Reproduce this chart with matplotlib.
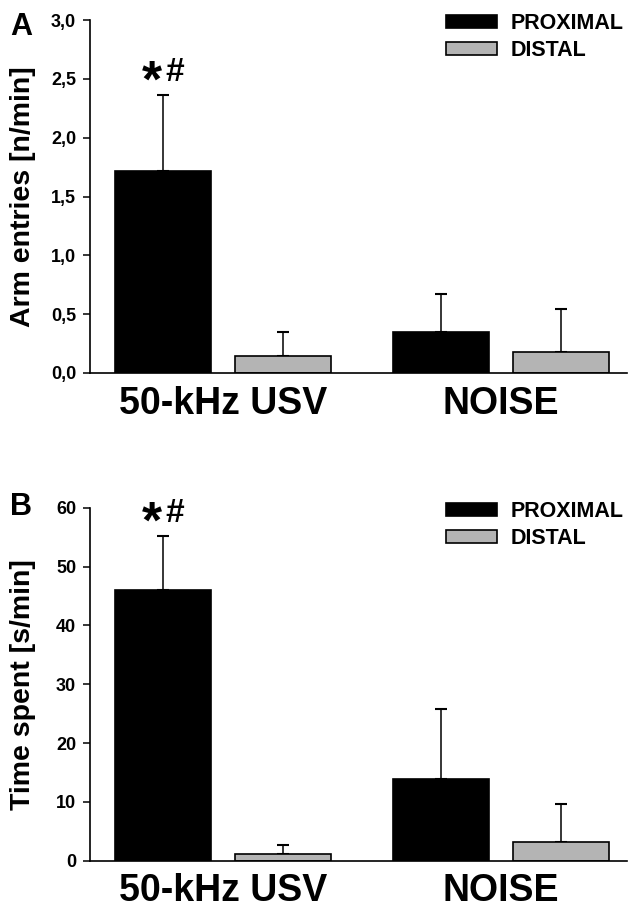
import matplotlib
matplotlib.use('Agg')
import matplotlib.pyplot as plt
import numpy as np

plt.rcParams['font.family'] = ['Liberation Sans', 'DejaVu Sans']
plt.rcParams['font.weight'] = 'bold'

# groups and series
groups = ['50-kHz USV', 'NOISE']
series = ['PROXIMAL', 'DISTAL']
colors = ['#000000', '#b4b4b4']

# panel A: arm entries [n/min]
entries_mean = {'PROXIMAL': [1.72, 0.35], 'DISTAL': [0.145, 0.18]}
entries_err = {'PROXIMAL': [0.64, 0.32], 'DISTAL': [0.205, 0.365]}
entries_ticks = [0, 0.5, 1.0, 1.5, 2.0, 2.5, 3.0]
entries_ticklabels = ['0,0', '0,5', '1,0', '1,5', '2,0', '2,5', '3,0']

# panel B: time spent [s/min]
time_mean = {'PROXIMAL': [46.0, 13.9], 'DISTAL': [1.15, 3.1]}
time_err = {'PROXIMAL': [9.2, 11.8], 'DISTAL': [1.5, 6.6]}
time_ticks = [0, 10, 20, 30, 40, 50, 60]
time_ticklabels = ['0', '10', '20', '30', '40', '50', '60']

W, H = 629, 911
fig = plt.figure(figsize=(W / 100, H / 100), dpi=100)

bar_w = 0.346
offs = [-0.216, 0.216]


def draw_panel(rect, means, errs, ticks, ticklabels, ylabel, letter, letter_y,
               legend_anchor):
    ax = fig.add_axes(rect)
    x = np.arange(len(groups))
    for i, s in enumerate(series):
        ax.bar(x + offs[i], means[s], width=bar_w, color=colors[i],
               edgecolor='black', linewidth=1.2, label=s, zorder=2)
        ax.errorbar(x + offs[i], means[s],
                    yerr=[np.zeros(len(groups)), errs[s]],
                    fmt='none', ecolor='black', elinewidth=1.1,
                    capsize=4.5, capthick=1.5, zorder=1)
    ax.set_xlim(-0.479, 1.455)
    ax.set_ylim(ticks[0], ticks[-1])
    ax.set_yticks(ticks)
    ax.set_yticklabels(ticklabels, fontsize=13, fontweight='bold')
    ax.set_xticks(x)
    ax.set_xticklabels(groups, fontsize=27, fontweight='bold')
    ax.tick_params(axis='x', length=0, pad=9)
    ax.tick_params(axis='y', length=5, width=1.1, pad=5)
    for sp in ['top', 'right']:
        ax.spines[sp].set_visible(False)
    for sp in ['left', 'bottom']:
        ax.spines[sp].set_linewidth(1.2)
    ax.set_ylabel(ylabel, fontsize=20.5, fontweight='bold')
    ax.yaxis.set_label_coords(-0.10, 0.5)

    # significance marks over the 50-kHz proximal bar
    top = means['PROXIMAL'][0] + errs['PROXIMAL'][0]
    ax.annotate('*', (offs[0], top), xytext=(-8, -9),
                textcoords='offset points', ha='center', va='bottom',
                fontsize=37, fontweight='bold')
    ax.annotate('#', (offs[0], top), xytext=(8.5, 5),
                textcoords='offset points', ha='center', va='bottom',
                fontsize=24, fontweight='bold')

    leg = ax.legend(loc='upper left', bbox_to_anchor=legend_anchor,
                    bbox_transform=fig.transFigure, frameon=False,
                    fontsize=15.5, handlelength=2.37, handleheight=0.56,
                    labelspacing=0.3, handletextpad=0.65, borderpad=0,
                    borderaxespad=0)
    for t in leg.get_texts():
        t.set_fontweight('bold')

    fig.text(10 / W, letter_y, letter, fontsize=22, fontweight='bold',
             va='baseline', ha='left')
    return ax


left = 90 / W
width = (627 - 90) / W
height = 353 / H

draw_panel([left, 1 - 373 / H, width, height], entries_mean, entries_err,
           entries_ticks, entries_ticklabels, 'Arm entries [n/min]', 'A',
           1 - 35 / H, (446 / W, 1 - 13 / H))
draw_panel([left, 1 - 860.7 / H, width, height], time_mean, time_err,
           time_ticks, time_ticklabels, 'Time spent [s/min]', 'B',
           1 - 515 / H, (446 / W, 1 - 501 / H))

fig.savefig('out.png', dpi=100)
